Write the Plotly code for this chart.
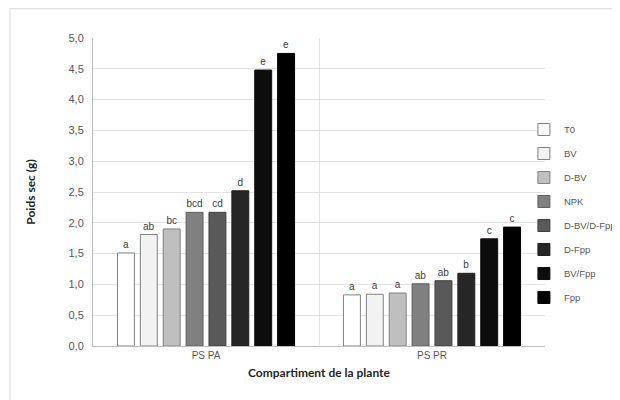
import plotly.graph_objects as go

categories = ["PS PA", "PS PR"]
treatments = ["T0", "BV", "D-BV", "NPK", "D-BV/D-Fpp", "D-Fpp", "BV/Fpp", "Fpp"]
values_pa = [1.51, 1.81, 1.90, 2.17, 2.17, 2.52, 4.48, 4.75]
values_pr = [0.83, 0.84, 0.86, 1.01, 1.06, 1.18, 1.74, 1.93]
letters_pa = ["a", "ab", "bc", "bcd", "cd", "d", "e", "e"]
letters_pr = ["a", "a", "a", "ab", "ab", "b", "c", "c"]
y_ticks = [0, 0.5, 1, 1.5, 2, 2.5, 3, 3.5, 4, 4.5, 5]

fills = ["#ffffff", "#f2f2f2", "#bfbfbf", "#808080", "#595959", "#262626", "#0d0d0d", "#000000"]
outlines = ["#808080", "#808080", "#808080", "#606060", "#404040", "#202020", "#101010", "#000000"]

fig = go.Figure()
for i, t in enumerate(treatments):
    fig.add_trace(go.Bar(
        name=t, x=categories, y=[values_pa[i], values_pr[i]],
        text=[letters_pa[i], letters_pr[i]], textposition="outside",
        textfont=dict(family="Liberation Sans", size=10, color="#404040"),
        cliponaxis=False,
        marker=dict(color=fills[i], line=dict(color=outlines[i], width=1)),
        legendgroup=t,
    ))

# page body adds an 8px offset, so the figure is 612x392
fig.update_layout(
    width=612, height=392,
    margin=dict(l=85, r=75, t=30, b=54, autoexpand=False),
    paper_bgcolor="white", plot_bgcolor="white",
    separators=", ",
    barmode="group", bargap=0.19, bargroupgap=0.26,
    font=dict(family="Liberation Sans", color="#595959"),
    legend=dict(xref="container", yref="container", x=0.843, xanchor="left",
                y=0.727, yanchor="top",
                font=dict(family="Liberation Sans", size=9.5, color="#595959"),
                tracegroupgap=5, bgcolor="rgba(0,0,0,0)"),
    xaxis=dict(
        automargin=False,
        tickson="boundaries", showgrid=True, gridcolor="#e3e3e3", gridwidth=1,
        showline=True, linecolor="#bfbfbf", linewidth=1, ticks="",
        tickfont=dict(family="Liberation Sans Narrow, Liberation Sans", size=10, color="#595959"),
        title=dict(text="<b>Compartiment de la plante</b>", standoff=8,
                   font=dict(family="Lato", size=12, color="#262626")),
    ),
    yaxis=dict(
        automargin=False,
        range=[0, 5], tickvals=y_ticks, tickformat=".1f",
        showgrid=True, gridcolor="#e3e3e3", gridwidth=1,
        showline=True, linecolor="#bfbfbf", linewidth=1, ticks="",
        ticklabelstandoff=6,
        tickfont=dict(family="Liberation Sans", size=11, color="#595959"),
        title=dict(text="<b>Poids sec (g)</b>", standoff=30,
                   font=dict(family="Lato", size=12, color="#262626")),
    ),
    shapes=[dict(type="rect", xref="paper", yref="paper",
                 x0=-0.1836, x1=1.2, y0=-0.2, y1=1.095,
                 line=dict(color="#d9d9d9", width=1), fillcolor="rgba(0,0,0,0)", layer="below")],
)

fig.write_html("out.html")
